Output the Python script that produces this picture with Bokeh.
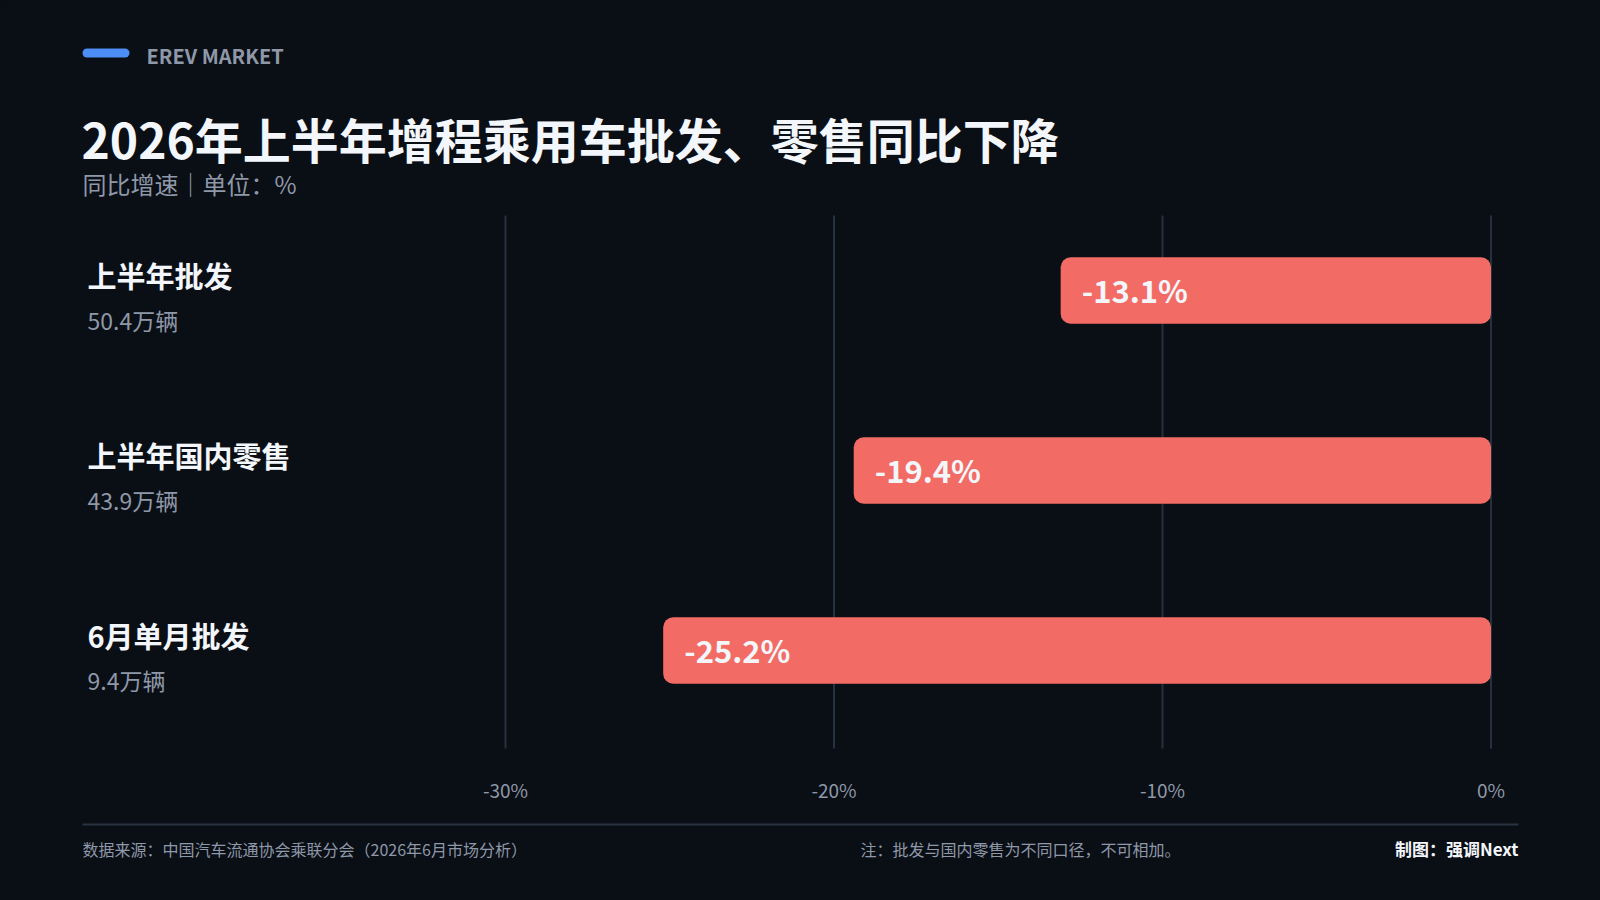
from bokeh.plotting import figure
from bokeh.models import Range1d, ColumnDataSource
from bokeh.core.properties import value
from bokeh.embed import file_html
from bokeh.resources import INLINE

# ---------------- data ----------------
categories = ["上半年批发", "上半年国内零售", "6月单月批发"]
volumes = ["50.4万辆", "43.9万辆", "9.4万辆"]
yoy = [-13.1, -19.4, -25.2]
bar_labels = ["-13.1%", "-19.4%", "-25.2%"]
ticks = [-30, -20, -10, 0]
tick_labels = ["-30%", "-20%", "-10%", "0%"]

kicker = "EREV MARKET"
title = "2026年上半年增程乘用车批发、零售同比下降"
subtitle = "同比增速｜单位：%"
source_note = "数据来源：中国汽车流通协会乘联分会（2026年6月市场分析）"
caliber_note = "注：批发与国内零售为不同口径，不可相加。"
credit = "制图：强调Next"

# ---------------- style ----------------
BG = "#0a0e15"
WHITE = "#f3f6fa"
GREY = "#8e98a8"
GRID = "#263040"
BAR = "#f26c65"
BLUE = "#4c8df6"
RULE = "#2a3342"
FONT = value("Noto Sans CJK SC")

W, H = 1584, 884
# horizontal scale: px per percentage point
X0_PX = 505.0     # -30 position
X1_PX = 1490.5    # 0 position
K = (X1_PX - X0_PX) / 30.0
x_start = -30 - X0_PX / K
x_end = (W - X1_PX) / K
# vertical: one unit per category row
ROW = 180.0
Y_TOP_PX = 290.0
y_top = -Y_TOP_PX / ROW
y_bottom = (H - Y_TOP_PX) / ROW


def X(sx):
    return x_start + sx / K


def Y(sy):
    return y_top + sy / ROW


p = figure(width=W, height=H, output_backend="svg", toolbar_location=None,
           title=None, x_axis_type=None, y_axis_type=None,
           x_range=Range1d(x_start, x_end), y_range=Range1d(y_bottom, y_top),
           min_border=0)
p.outline_line_color = None
p.background_fill_color = BG
p.border_fill_color = BG
p.grid.visible = False

idx = list(range(len(categories)))
src = ColumnDataSource(dict(y=idx, v=yoy, zero=[0] * len(yoy), lab=bar_labels,
                            cat=categories, vol=volumes,
                            cx=[X(87)] * len(categories)))

# grid lines
p.segment(x0=ticks, x1=ticks, y0=[Y(215)] * len(ticks), y1=[Y(748)] * len(ticks),
          line_color=GRID, line_width=2)
# tick labels
p.text(x=ticks, y=[Y(789)] * len(ticks), text=tick_labels, text_font=FONT,
       text_font_size="19px", text_color=GREY, text_align="center",
       text_baseline="middle")

# bars
p.hbar(y="y", left="v", right="zero", height=66.5 / ROW, source=src,
       fill_color=BAR, line_color=None, border_radius=10)
p.text(x="v", y="y", text="lab", source=src, x_offset=21, y_offset=-1,
       text_font=FONT, text_font_style="bold", text_font_size="31px",
       text_color=WHITE, text_align="left", text_baseline="middle")

# category labels
p.text(x="cx", y="y", text="cat", source=src, y_offset=-16, text_font=FONT,
       text_font_style="bold", text_font_size="29px", text_color=WHITE,
       text_align="left", text_baseline="middle")
p.text(x="cx", y="y", text="vol", source=src, y_offset=29, text_font=FONT,
       text_font_size="23px", text_color=GREY, text_align="left",
       text_baseline="middle")

# header
p.segment(x0=[X(86.5)], x1=[X(124.5)], y0=[Y(52.5)], y1=[Y(52.5)],
          line_color=BLUE, line_width=9, line_cap="round")
p.text(x=[X(146)], y=[Y(55)], text=[kicker], text_font=FONT,
       text_font_style="bold", text_font_size="20px", text_color=GREY,
       text_align="left", text_baseline="middle")
p.text(x=[X(81)], y=[Y(137)], text=[title], text_font=FONT,
       text_font_style="bold", text_font_size="48px", text_color=WHITE,
       text_align="left", text_baseline="middle")
p.text(x=[X(82)], y=[Y(183)], text=[subtitle], text_font=FONT,
       text_font_size="24px", text_color=GREY, text_align="left",
       text_baseline="middle")

# footer
p.segment(x0=[X(82)], x1=[X(1518)], y0=[Y(824)], y1=[Y(824)],
          line_color=RULE, line_width=2)
p.text(x=[X(82)], y=[Y(848)], text=[source_note], text_font=FONT,
       text_font_size="16px", text_color=GREY, text_align="left",
       text_baseline="middle")
p.text(x=[X(860)], y=[Y(848)], text=[caliber_note], text_font=FONT,
       text_font_size="16px", text_color=GREY, text_align="left",
       text_baseline="middle")
p.text(x=[X(1518)], y=[Y(848)], text=[credit], text_font=FONT,
       text_font_style="bold", text_font_size="17px", text_color=WHITE,
       text_align="right", text_baseline="middle")

html = file_html(p, INLINE)
html = html.replace("<head>", "<head><style>html,body{background:%s;}</style>" % BG, 1)
open("out.html", "w").write(html)
